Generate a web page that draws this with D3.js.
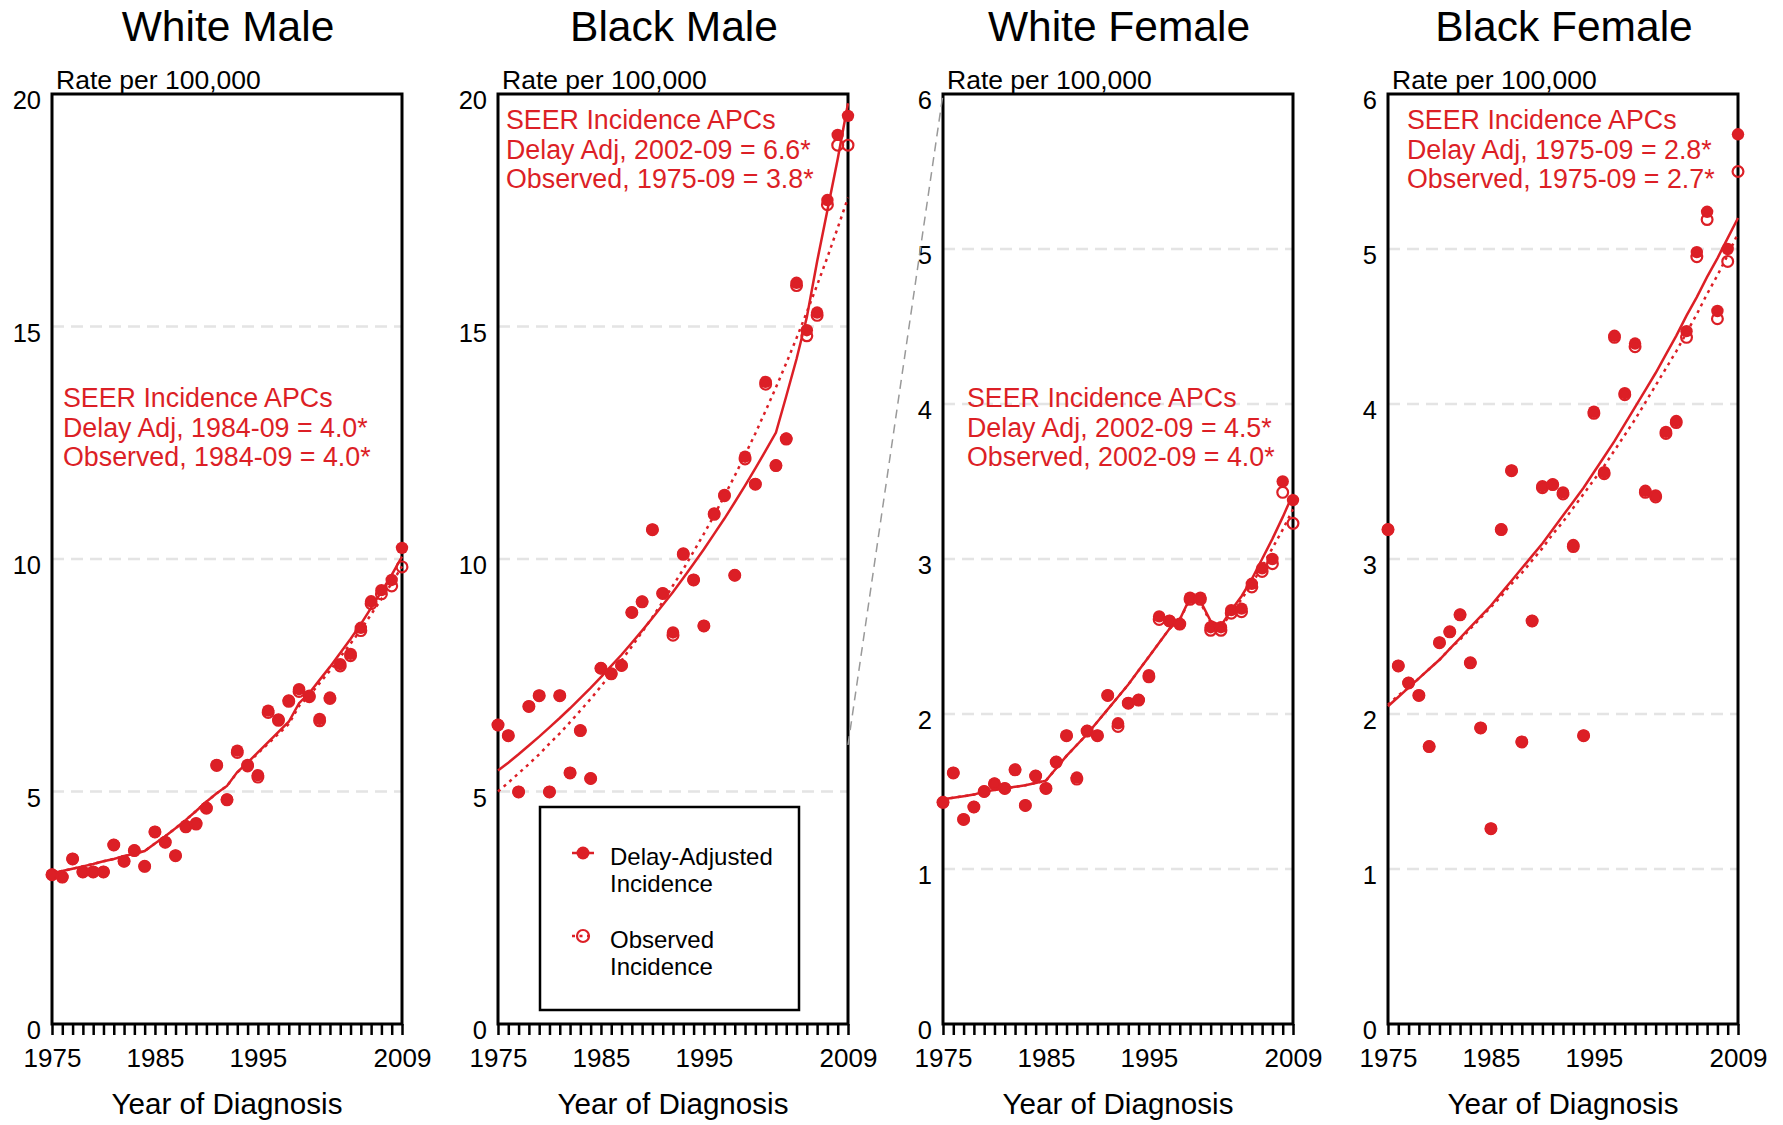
<!DOCTYPE html>
<html><head><meta charset="utf-8">
<script src="https://cdn.jsdelivr.net/npm/d3@7"></script>
<style>
html,body{margin:0;padding:0;background:#fff;}
svg{display:block;font-family:"Liberation Sans",Arial,Helvetica,sans-serif;}
</style></head><body>
<svg id="chart" width="1783" height="1125"></svg>
<script>
// ---------------- DATA ----------------
const years = [1975,1976,1977,1978,1979,1980,1981,1982,1983,1984,1985,1986,1987,1988,1989,1990,1991,1992,1993,1994,1995,1996,1997,1998,1999,2000,2001,2002,2003,2004,2005,2006,2007,2008,2009];
const xTickLabels = [1975, 1985, 1995, 2009];
const panelTitles = ["White Male", "Black Male", "White Female", "Black Female"];
const yMaxes = [20, 20, 6, 6];
const yTicksMale = [0, 5, 10, 15, 20];
const yTicksFemale = [0, 1, 2, 3, 4, 5, 6];

// White Male
const wmDelay = [3.21,3.16,3.55,3.27,3.27,3.27,3.85,3.50,3.73,3.39,4.13,3.91,3.62,4.26,4.32,4.65,5.57,4.83,5.88,5.57,5.35,6.74,6.55,6.96,7.20,7.06,6.56,7.02,7.74,7.96,8.52,9.09,9.33,9.55,10.24];
const wmObserved = [3.21,3.16,3.55,3.27,3.27,3.27,3.85,3.50,3.73,3.39,4.13,3.91,3.62,4.24,4.30,4.64,5.56,4.82,5.84,5.55,5.31,6.70,6.53,6.94,7.15,7.04,6.52,7.00,7.70,7.92,8.46,9.04,9.25,9.42,9.83];
const wmDelayFit = [3.24,3.29,3.34,3.39,3.44,3.50,3.55,3.61,3.66,3.72,3.88,4.04,4.21,4.39,4.58,4.78,4.96,5.12,5.42,5.62,5.84,6.06,6.28,6.50,6.90,7.12,7.40,7.68,7.98,8.28,8.60,8.95,9.30,9.66,10.05];
const wmObsFit = [3.24,3.29,3.34,3.39,3.44,3.50,3.55,3.61,3.66,3.72,3.88,4.04,4.21,4.39,4.58,4.78,4.96,5.12,5.41,5.60,5.82,6.03,6.24,6.45,6.84,7.06,7.33,7.60,7.89,8.18,8.48,8.81,9.14,9.48,9.84];

// Black Male
const bmDelay = [6.43,6.20,4.99,6.83,7.06,4.99,7.06,5.40,6.31,5.28,7.65,7.53,7.71,8.85,9.08,10.63,9.26,8.42,10.12,9.55,8.56,10.98,11.38,9.65,12.20,11.61,13.81,12.01,12.59,15.94,14.92,15.30,17.72,19.12,19.53];
const bmObserved = [6.43,6.20,4.99,6.83,7.06,4.99,7.06,5.40,6.31,5.28,7.65,7.53,7.71,8.85,9.08,10.63,9.26,8.36,10.10,9.55,8.56,10.96,11.36,9.65,12.15,11.61,13.76,12.01,12.58,15.88,14.80,15.24,17.62,18.90,18.90];
const bmDelayFit = [5.45,5.62,5.80,5.99,6.18,6.38,6.58,6.79,7.01,7.23,7.46,7.70,7.94,8.20,8.46,8.73,9.01,9.29,9.59,9.90,10.21,10.54,10.87,11.22,11.58,11.95,12.33,12.72,13.50,14.30,15.20,16.40,17.50,18.60,19.80];
const bmObsFit = [5.00,5.19,5.39,5.59,5.80,6.03,6.25,6.49,6.74,6.99,7.26,7.54,7.82,8.12,8.43,8.75,9.08,9.43,9.78,10.16,10.54,10.94,11.36,11.79,12.24,12.70,13.19,13.69,14.21,14.75,15.31,15.89,16.49,17.12,17.77];

// White Female
const wfDelay = [1.43,1.62,1.32,1.40,1.50,1.55,1.52,1.64,1.41,1.60,1.52,1.69,1.86,1.59,1.89,1.86,2.12,1.94,2.07,2.09,2.25,2.63,2.60,2.58,2.75,2.75,2.56,2.56,2.67,2.68,2.84,2.94,3.00,3.50,3.38];
const wfObserved = [1.43,1.62,1.32,1.40,1.50,1.55,1.52,1.64,1.41,1.60,1.52,1.69,1.86,1.58,1.89,1.86,2.12,1.92,2.07,2.09,2.24,2.61,2.60,2.58,2.74,2.74,2.54,2.54,2.65,2.66,2.82,2.92,2.97,3.43,3.23];
const wfDelayFit = [1.45,1.46,1.47,1.48,1.50,1.51,1.52,1.53,1.54,1.555,1.57,1.65,1.73,1.80,1.87,1.95,2.03,2.11,2.19,2.28,2.37,2.46,2.55,2.61,2.75,2.73,2.60,2.57,2.67,2.76,2.87,3.00,3.13,3.27,3.42];
const wfObsFit = [1.45,1.46,1.47,1.48,1.50,1.51,1.52,1.53,1.54,1.555,1.57,1.65,1.73,1.80,1.87,1.95,2.03,2.11,2.19,2.28,2.37,2.46,2.55,2.61,2.74,2.72,2.59,2.56,2.65,2.74,2.84,2.95,3.07,3.19,3.32];

// Black Female
const bfDelay = [3.19,2.31,2.20,2.12,1.79,2.46,2.53,2.64,2.33,1.91,1.26,3.19,3.57,1.82,2.60,3.47,3.48,3.43,3.09,1.86,3.95,3.56,4.44,4.07,4.39,3.44,3.41,3.82,3.89,4.47,4.98,5.24,4.60,5.00,5.74];
const bfObserved = [3.19,2.31,2.20,2.12,1.79,2.46,2.53,2.64,2.33,1.91,1.26,3.19,3.57,1.82,2.60,3.46,3.48,3.42,3.08,1.86,3.94,3.55,4.43,4.06,4.37,3.43,3.40,3.81,3.88,4.43,4.95,5.19,4.55,4.92,5.50];
const bfDelayFit = [2.05,2.11,2.17,2.23,2.29,2.35,2.42,2.49,2.56,2.63,2.70,2.78,2.86,2.94,3.02,3.10,3.19,3.28,3.37,3.46,3.56,3.66,3.76,3.87,3.98,4.09,4.20,4.32,4.44,4.57,4.69,4.82,4.94,5.07,5.20];
const bfObsFit = [2.06,2.12,2.17,2.23,2.29,2.35,2.42,2.48,2.55,2.62,2.69,2.76,2.84,2.91,2.99,3.07,3.16,3.24,3.33,3.42,3.51,3.60,3.70,3.80,3.90,4.01,4.12,4.23,4.34,4.46,4.58,4.71,4.83,4.96,5.10];

const apcTexts = [
  ["SEER Incidence APCs", "Delay Adj, 1984-09 = 4.0*", "Observed, 1984-09 = 4.0*"],
  ["SEER Incidence APCs", "Delay Adj, 2002-09 = 6.6*", "Observed, 1975-09 = 3.8*"],
  ["SEER Incidence APCs", "Delay Adj, 2002-09 = 4.5*", "Observed, 2002-09 = 4.0*"],
  ["SEER Incidence APCs", "Delay Adj, 1975-09 = 2.8*", "Observed, 1975-09 = 2.7*"]
];
const legendLabels = [["Delay-Adjusted", "Incidence"], ["Observed", "Incidence"]];
const yAxisLabel = "Rate per 100,000";
const xAxisLabel = "Year of Diagnosis";

// ---------------- LAYOUT ----------------
const RED = "#dc1f26";
const panelLefts = [52, 498, 943, 1388];
const PW = 350, TOP = 94, BOTTOM = 1024;
const annotPos = [{dx: 11, y: 407}, {dx: 8, y: 129}, {dx: 24, y: 407}, {dx: 19, y: 129}];

const panels = [
  {delay: wmDelay, obs: wmObserved, dFit: wmDelayFit, oFit: wmObsFit, ticks: yTicksMale},
  {delay: bmDelay, obs: bmObserved, dFit: bmDelayFit, oFit: bmObsFit, ticks: yTicksMale},
  {delay: wfDelay, obs: wfObserved, dFit: wfDelayFit, oFit: wfObsFit, ticks: yTicksFemale},
  {delay: bfDelay, obs: bfObserved, dFit: bfDelayFit, oFit: bfObsFit, ticks: yTicksFemale}
];

const svg = d3.select("#chart");
const scales = [];

panels.forEach((p, i) => {
  const L = panelLefts[i];
  const x = d3.scaleLinear().domain([1975, 2009]).range([L, L + PW]);
  const y = d3.scaleLinear().domain([0, yMaxes[i]]).range([BOTTOM, TOP]);
  scales.push({x, y});
  const g = svg.append("g");

  // title
  g.append("text").attr("x", L + PW / 2 + 1).attr("y", 41).attr("text-anchor", "middle")
    .attr("font-size", 42.5).attr("fill", "#000").text(panelTitles[i]);

  // gridlines
  g.append("g").selectAll("line").data(p.ticks.filter(t => t > 0 && t < yMaxes[i])).join("line")
    .attr("x1", L).attr("x2", L + PW).attr("y1", d => y(d)).attr("y2", d => y(d))
    .attr("stroke", "#e4e4e4").attr("stroke-width", 2.5).attr("stroke-dasharray", "12,7");

  // y axis labels
  const ya = g.append("g").attr("transform", `translate(${L},0)`)
    .call(d3.axisLeft(y).tickValues(p.ticks).tickSize(0).tickPadding(11).tickFormat(d3.format("d")));
  ya.select(".domain").remove();
  ya.selectAll("text").attr("font-size", 25.5).attr("fill", "#000").attr("dy", "0.57em")
    .attr("font-family", "Liberation Sans, Arial, sans-serif");

  // x axis
  const xa = g.append("g").attr("transform", `translate(0,${BOTTOM})`)
    .call(d3.axisBottom(x).tickValues(years).tickSize(11).tickPadding(14)
      .tickFormat(d => xTickLabels.includes(d) ? String(d) : ""));
  xa.select(".domain").remove();
  xa.selectAll("line").attr("stroke", "#000").attr("stroke-width", 2.5);
  xa.selectAll("text").attr("font-size", 26).attr("fill", "#000")
    .attr("font-family", "Liberation Sans, Arial, sans-serif");

  // box
  g.append("rect").attr("x", L).attr("y", TOP).attr("width", PW).attr("height", BOTTOM - TOP)
    .attr("fill", "none").attr("stroke", "#000").attr("stroke-width", 3);

  // axis titles
  g.append("text").attr("x", L + 4).attr("y", 89).attr("font-size", 26.5).attr("fill", "#000").text(yAxisLabel);
  g.append("text").attr("x", L + PW / 2).attr("y", 1114).attr("text-anchor", "middle")
    .attr("font-size", 29.6).attr("fill", "#000").text(xAxisLabel);

  // fit lines
  const line = vals => d3.line().x((d, k) => x(years[k])).y(d => y(d))(vals);
  g.append("path").attr("d", line(p.oFit)).attr("fill", "none").attr("stroke", RED)
    .attr("stroke-width", 2.5).attr("stroke-dasharray", "3,4.5");
  g.append("path").attr("d", line(p.dFit)).attr("fill", "none").attr("stroke", RED)
    .attr("stroke-width", 2.5);

  // points
  g.append("g").selectAll("circle").data(p.delay).join("circle")
    .attr("cx", (d, k) => x(years[k])).attr("cy", d => y(d)).attr("r", 6.2).attr("fill", RED);
  g.append("g").selectAll("circle").data(p.obs).join("circle")
    .attr("cx", (d, k) => x(years[k])).attr("cy", d => y(d)).attr("r", 5.4)
    .attr("fill", "none").attr("stroke", RED).attr("stroke-width", 2.2);

  // APC annotation
  g.append("g").selectAll("text").data(apcTexts[i]).join("text")
    .attr("x", L + annotPos[i].dx).attr("y", (d, k) => annotPos[i].y + k * 29.5)
    .attr("font-size", 26.8).attr("fill", RED).text(d => d);
});

// connector (scale change) from Black Male to White Female
svg.append("line")
  .attr("x1", scales[1].x(2009)).attr("y1", scales[1].y(6))
  .attr("x2", scales[2].x(1975)).attr("y2", scales[2].y(6))
  .attr("stroke", "#999").attr("stroke-width", 1.5).attr("stroke-dasharray", "9,6");

// legend inside Black Male panel
const lg = svg.append("g");
lg.append("rect").attr("x", 540).attr("y", 807).attr("width", 259).attr("height", 203)
  .attr("fill", "#fff").attr("stroke", "#000").attr("stroke-width", 2.5);
lg.append("line").attr("x1", 572).attr("x2", 594).attr("y1", 853).attr("y2", 853)
  .attr("stroke", RED).attr("stroke-width", 2.5);
lg.append("circle").attr("cx", 583).attr("cy", 853).attr("r", 6.5).attr("fill", RED);
lg.append("line").attr("x1", 572).attr("x2", 594).attr("y1", 936).attr("y2", 936)
  .attr("stroke", RED).attr("stroke-width", 2.5).attr("stroke-dasharray", "3,4.5");
lg.append("circle").attr("cx", 583).attr("cy", 936).attr("r", 6).attr("fill", "none")
  .attr("stroke", RED).attr("stroke-width", 2.2);
legendLabels.forEach((lines, j) => {
  lines.forEach((t, k) => {
    lg.append("text").attr("x", 610).attr("y", (j === 0 ? 865 : 948) + k * 27)
      .attr("font-size", 24).attr("fill", "#000").text(t);
  });
});
</script>
</body></html>
